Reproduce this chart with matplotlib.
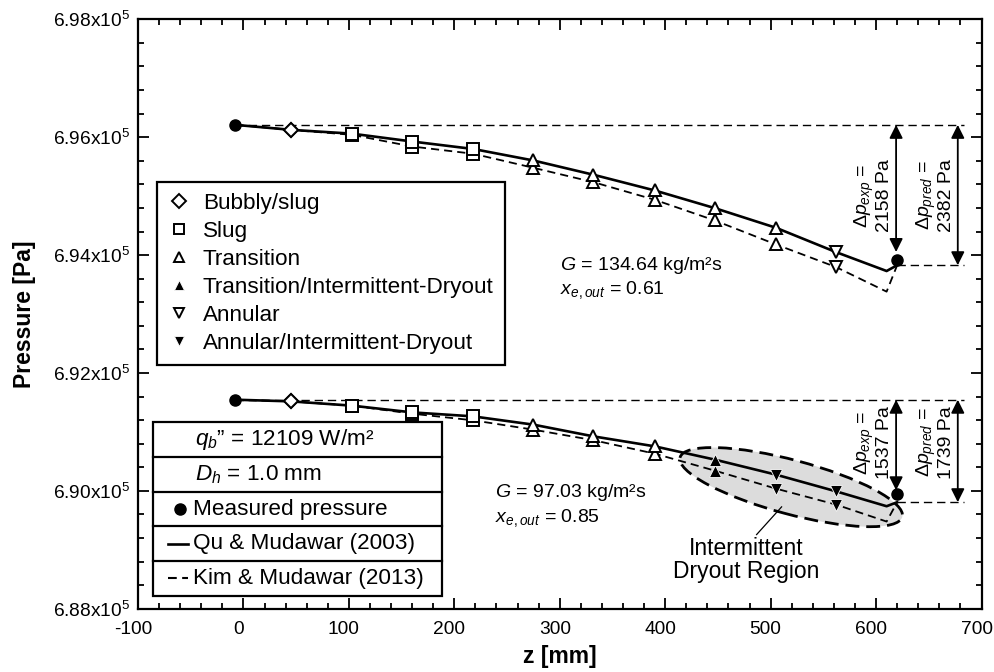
import matplotlib
matplotlib.use("Agg")
import matplotlib.pyplot as plt
import matplotlib.transforms as mtransforms
from matplotlib.lines import Line2D
from matplotlib.patches import Ellipse, Rectangle
from matplotlib.ticker import MultipleLocator, FuncFormatter

plt.rcParams['font.family'] = ['Liberation Sans', 'DejaVu Sans']
plt.rcParams['mathtext.fontset'] = 'custom'
plt.rcParams['mathtext.rm'] = 'Liberation Sans'
plt.rcParams['mathtext.it'] = 'Liberation Sans:italic'
plt.rcParams['mathtext.bf'] = 'Liberation Sans:bold'

# ---------------- data ----------------
z_inlet = -8
z_marks = [45, 103, 160, 218, 275, 332, 390, 447, 505, 562]
z_min = 610
z_outlet = 620

# upper case: G = 134.64, x_e,out = 0.61
top_p_inlet = 696210
top_solid = [696125, 696060, 695927, 695800, 695605, 695363, 695097, 694797, 694464, 694051]
top_dashed = [696125, 696040, 695842, 695719, 695481, 695237, 694939, 694588, 694181, 693797]
top_solid_min = 693730
top_dashed_min = 693380
top_dp_exp = 2158
top_dp_pred = 2382
top_p_meas_out = 693910
top_regimes = ['Bubbly/slug', 'Slug', 'Slug', 'Slug', 'Transition', 'Transition',
               'Transition', 'Transition', 'Transition', 'Annular']

# lower case: G = 97.03, x_e,out = 0.85
bot_p_inlet = 691547
bot_solid = [691519, 691446, 691332, 691264, 691124, 690925, 690756, 690531, 690276, 689993]
bot_dashed = [691519, 691446, 691310, 691197, 691039, 690860, 690632, 690344, 690039, 689768]
bot_solid_min = 689740
bot_dashed_min = 689480
bot_dp_exp = 1537
bot_dp_pred = 1739
bot_p_meas_out = 689950
bot_regimes = ['Bubbly/slug', 'Slug', 'Slug', 'Slug', 'Transition', 'Transition',
               'Transition', 'Transition/Intermittent-Dryout',
               'Annular/Intermittent-Dryout', 'Annular/Intermittent-Dryout']

regime_order = ['Bubbly/slug', 'Slug', 'Transition', 'Transition/Intermittent-Dryout',
                'Annular', 'Annular/Intermittent-Dryout']

x_ticks = [-100, 0, 100, 200, 300, 400, 500, 600, 700]
y_ticks = [6.88e5, 6.90e5, 6.92e5, 6.94e5, 6.96e5, 6.98e5]

# ---------------- styles ----------------
regime_style = {
    'Bubbly/slug': dict(marker='D', mfc='white', mec='black', ms=7.5, mew=1.4),
    'Slug': dict(marker='s', mfc='white', mec='black', ms=8.5, mew=1.4),
    'Transition': dict(marker='^', mfc='white', mec='black', ms=8.5, mew=1.4),
    'Transition/Intermittent-Dryout': dict(marker='^', mfc='black', mec='white', ms=9, mew=0.6),
    'Annular': dict(marker='v', mfc='white', mec='black', ms=8.5, mew=1.4),
    'Annular/Intermittent-Dryout': dict(marker='v', mfc='black', mec='white', ms=9, mew=0.6),
}

FS_TICK = 13.8
FS_LEG = 16.2
FS_ANN = 14

fig = plt.figure(figsize=(9.94, 6.72), dpi=100)
L, R, B, T = 138.0, 981.5, 608.8, 19.3   # axes box in pixels (from top-left)
ax = fig.add_axes([L / 994, (672 - B) / 672, (R - L) / 994, (B - T) / 672])
ax.set_xlim(-100, 700)
ax.set_ylim(6.88e5, 6.98e5)


def axfrac(px, py):
    return (px - L) / (R - L), (B - py) / (B - T)


# ---------------- intermittent dryout ellipse ----------------
ell_trans = fig.dpi_scale_trans + mtransforms.ScaledTranslation(519.5, 690064, ax.transData)
ell = Ellipse((0, 0), 2.30, 0.54, angle=-15, transform=ell_trans,
              facecolor='#dcdcdc', edgecolor='black', lw=2.0,
              linestyle=(0, (5, 2.5)), zorder=1)
ax.add_patch(ell)

# ---------------- curves ----------------
zl = [z_inlet] + z_marks + [z_min, z_outlet]
for p_in, solid, dashed, smin, dmin, dpp in [
        (top_p_inlet, top_solid, top_dashed, top_solid_min, top_dashed_min, top_dp_pred),
        (bot_p_inlet, bot_solid, bot_dashed, bot_solid_min, bot_dashed_min, bot_dp_pred)]:
    p_out = p_in - dpp
    ax.plot(zl, [p_in] + solid + [smin, p_out], color='black', lw=1.9, zorder=2,
            solid_joinstyle='round')
    ax.plot(zl, [p_in] + dashed + [dmin, p_out], color='black', lw=1.3,
            linestyle=(0, (4.5, 2.8)), zorder=2)

# markers
for solid, dashed, regs in [(top_solid, top_dashed, top_regimes),
                            (bot_solid, bot_dashed, bot_regimes)]:
    for z, ps, pd_, rg in zip(z_marks, solid, dashed, regs):
        st = regime_style[rg]
        ax.plot([z], [pd_], ls='none', zorder=3, **st)
        ax.plot([z], [ps], ls='none', zorder=3, **st)

# measured pressure points
ax.plot([z_inlet, z_outlet], [top_p_inlet, top_p_meas_out], ls='none', marker='o',
        color='black', ms=8, zorder=4)
ax.plot([z_inlet, z_outlet], [bot_p_inlet, bot_p_meas_out], ls='none', marker='o',
        color='black', ms=8, zorder=4)

# ---------------- reference lines and arrows ----------------
z_line_end = 683
z_arrow_exp = 619
z_arrow_pred = 677.5
for p_in, dpe, dpp, ytxt in [(top_p_inlet, top_dp_exp, top_dp_pred, 695010),
                             (bot_p_inlet, bot_dp_exp, bot_dp_pred, 690819)]:
    ax.plot([z_inlet, z_line_end], [p_in, p_in], color='black', lw=1.0,
            linestyle=(0, (6, 3.5)), zorder=1.5)
    ax.plot([z_outlet, z_line_end], [p_in - dpp, p_in - dpp], color='black', lw=1.0,
            linestyle=(0, (6, 3.5)), zorder=1.5)
    for zz, dp in [(z_arrow_exp, dpe), (z_arrow_pred, dpp)]:
        ax.annotate('', xy=(zz, p_in - dp), xytext=(zz, p_in),
                    arrowprops=dict(arrowstyle='<|-|>', color='black', lw=1.3,
                                    mutation_scale=20, shrinkA=0, shrinkB=0),
                    zorder=5)
    ax.text(597, ytxt, 'Δ$p_{exp}$ =\n%d Pa' % dpe, rotation=90, ha='center',
            va='center', fontsize=FS_ANN, linespacing=1.0)
    ax.text(656, ytxt, 'Δ$p_{pred}$ =\n%d Pa' % dpp, rotation=90, ha='center',
            va='center', fontsize=FS_ANN, linespacing=1.0)

# ---------------- text annotations ----------------
ax.text(300, 693825, '$G$ = 134.64 kg/m²s', fontsize=FS_ANN, va='center', ha='left')
ax.text(300, 693402, '$x_{e,out}$ = 0.61', fontsize=FS_ANN, va='center', ha='left')
ax.text(238.4, 689966, '$G$ = 97.03 kg/m²s', fontsize=FS_ANN, va='center', ha='left')
ax.text(238.4, 689542, '$x_{e,out}$ = 0.85', fontsize=FS_ANN, va='center', ha='left')

ax.text(476.6, 688836, 'Intermittent\nDryout Region', fontsize=16.5, ha='center',
        va='center', linespacing=1.0)
ax.plot([486.7, 510.4], [689259, 689729], color='black', lw=0.9, zorder=2)

# ---------------- regime legend ----------------
handles = [Line2D([], [], ls='none', **regime_style[r]) for r in regime_order]
for h in handles:
    h.set_markersize(7.5)
lx, ly = axfrac(156.7, 181.7)
leg = ax.legend(handles, regime_order, loc='upper left', bbox_to_anchor=(lx, ly),
                bbox_transform=ax.transAxes, fontsize=FS_LEG, frameon=True,
                fancybox=False, edgecolor='black', framealpha=1, borderaxespad=0,
                handlelength=1.0, handletextpad=0.55, labelspacing=0.31, borderpad=0.5)
leg.get_frame().set_linewidth(1.6)
leg.set_zorder(6)

# ---------------- info box ----------------
bx0, bx1 = 152.7, 441.7
by0, row_h, n_rows = 422.3, 34.7, 5
x0f, y1f = axfrac(bx0, by0 + n_rows * row_h)
x1f, y0f = axfrac(bx1, by0)
ax.add_patch(Rectangle((x0f, y1f), x1f - x0f, y0f - y1f, transform=ax.transAxes,
                       facecolor='white', edgecolor='black', lw=1.6, zorder=6))
for i in range(1, n_rows):
    _, yf = axfrac(0, by0 + i * row_h)
    ax.plot([x0f, x1f], [yf, yf], transform=ax.transAxes, color='black', lw=1.6,
            zorder=7, clip_on=False)
row_y = [axfrac(0, by0 + (i + 0.5) * row_h)[1] for i in range(n_rows)]
tx = axfrac(195, 0)[0]
ax.text(tx, row_y[0], '$q_b$\u201d = 12109 W/m²', transform=ax.transAxes,
        fontsize=FS_LEG, va='center', ha='left', zorder=8)
ax.text(tx, row_y[1], '$D_h$ = 1.0 mm', transform=ax.transAxes,
        fontsize=FS_LEG, va='center', ha='left', zorder=8)
tx2 = axfrac(193, 0)[0]
ax.plot([axfrac(180, 0)[0]], [row_y[2]], transform=ax.transAxes, marker='o',
        color='black', ms=8, zorder=8, clip_on=False)
ax.text(tx2, row_y[2], 'Measured pressure', transform=ax.transAxes,
        fontsize=FS_LEG, va='center', ha='left', zorder=8)
ax.plot([axfrac(168, 0)[0], axfrac(188, 0)[0]], [row_y[3]] * 2, transform=ax.transAxes,
        color='black', lw=1.9, zorder=8, clip_on=False)
ax.text(tx2, row_y[3], 'Qu & Mudawar (2003)', transform=ax.transAxes,
        fontsize=FS_LEG, va='center', ha='left', zorder=8)
ax.plot([axfrac(168, 0)[0], axfrac(188, 0)[0]], [row_y[4]] * 2, transform=ax.transAxes,
        color='black', lw=1.5, linestyle=(0, (4.2, 2.6)), zorder=8, clip_on=False)
ax.text(tx2, row_y[4], 'Kim & Mudawar (2013)', transform=ax.transAxes,
        fontsize=FS_LEG, va='center', ha='left', zorder=8)

# ---------------- axes formatting ----------------
ax.set_xticks(x_ticks)
ax.set_yticks(y_ticks)
ax.xaxis.set_minor_locator(MultipleLocator(20))
ax.yaxis.set_minor_locator(MultipleLocator(400))
ax.yaxis.set_major_formatter(FuncFormatter(lambda v, pos: '%.2fx10$^5$' % (v / 1e5)))
ax.xaxis.set_major_formatter(FuncFormatter(lambda v, pos: '%d' % v))
ax.tick_params(which='both', direction='in', top=True, right=True, width=1.3,
               labelsize=FS_TICK)
ax.tick_params(which='major', length=8)
ax.tick_params(which='minor', length=4)
ax.tick_params(axis='x', pad=9)
ax.tick_params(axis='y', pad=6)
for s in ax.spines.values():
    s.set_linewidth(1.6)

shift = mtransforms.ScaledTranslation(-0.05, 0, fig.dpi_scale_trans)
for lab in ax.get_xticklabels():
    lab.set_transform(lab.get_transform() + shift)

ax.set_xlabel('z [mm]', fontsize=16.5, fontweight='bold', labelpad=5)
ax.set_ylabel('Pressure [Pa]', fontsize=16.5, fontweight='bold', labelpad=12)

fig.savefig('out.png', dpi=100)
